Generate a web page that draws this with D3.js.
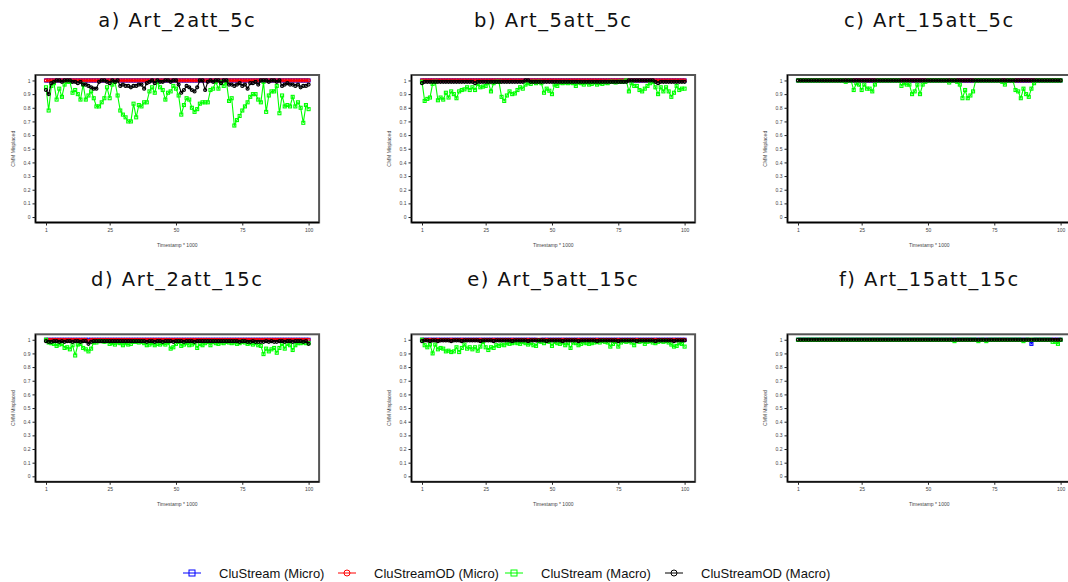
<!DOCTYPE html>
<head>
  <meta charset="utf-8">
  <script src="https://d3js.org/d3.v7.min.js"></script>
  <style>
    body { margin:0; background:#fff; }
    text { font-family: "Liberation Sans", Arial, sans-serif; }
  </style>
</head>
<body>
<script>
var width = 1068, height = 582;

// ---- data ----
var panelTitles = ["a) Art_2att_5c", "b) Art_5att_5c", "c) Art_15att_5c",
                   "d) Art_2att_15c", "e) Art_5att_15c", "f) Art_15att_15c"];
var seriesNames = ["CluStream (Micro)", "CluStreamOD (Micro)", "CluStream (Macro)", "CluStreamOD (Macro)"];
var timestamps = d3.range(1, 101);
var xTicks = [1, 25, 50, 75, 100];
var yTicks = [0, 0.1, 0.2, 0.3, 0.4, 0.5, 0.6, 0.7, 0.8, 0.9, 1];
var xLabel = "Timestamp * 1000";
var yLabel = "CMM Misplaced";

// a) Art_2att_5c
var cluMicroA = [1,1,1,1,1,1,1,1,1,1,1,1,1,1,1,1,1,1,1,1,
  1,1,1,1,1,1,1,1,1,1,1,1,1,1,1,1,1,1,1,1,
  1,1,1,1,1,1,1,1,1,1,1,1,1,1,1,1,1,1,1,1,
  1,1,1,1,1,1,1,1,1,1,1,1,1,1,1,1,1,1,1,1,
  1,1,1,1,1,1,1,1,1,1,1,1,1,1,1,1,1,1,1,1];
var odMicroA = [1,1,1,1,1,1,1,1,1,1,1,1,1,1,1,1,1,1,1,1,
  1,1,1,1,1,1,1,1,1,1,1,1,1,1,1,1,1,1,1,1,
  1,1,1,1,1,1,1,1,1,1,1,1,1,1,1,1,1,1,1,1,
  1,1,1,1,1,1,1,1,1,1,1,1,1,1,1,1,1,1,1,1,
  1,1,1,1,1,1,1,1,1,1,1,1,1,1,1,1,1,1,1,1];
var cluMacroA = [0.95,0.78,0.96,0.98,0.86,0.94,0.88,0.97,0.99,0.99,
  0.91,0.93,0.9,0.86,0.97,0.86,0.89,0.92,0.87,0.81,
  0.81,0.84,0.87,0.95,0.87,0.97,0.99,0.89,0.78,0.75,
  0.73,0.7,0.7,0.83,0.73,0.82,0.81,0.84,0.84,0.92,
  0.95,0.91,0.99,0.95,0.93,0.86,0.91,0.92,0.96,0.94,
  0.89,0.75,0.82,0.87,0.86,0.8,0.77,0.79,0.83,0.84,
  0.84,0.84,0.93,0.94,0.99,0.94,0.99,0.96,0.99,0.85,
  0.87,0.67,0.71,0.74,0.78,0.81,0.84,0.88,0.9,0.9,
  0.86,0.84,0.99,0.77,0.89,0.92,0.92,0.96,0.76,0.89,
  0.81,0.82,0.81,0.88,0.81,0.84,0.8,0.69,0.82,0.79];
var odMacroA = [0.93,0.9,0.98,0.99,1,1,0.99,1,1,1,
  0.99,0.99,0.98,0.99,0.97,0.97,0.96,0.95,0.94,0.94,
  0.99,1,1,0.99,0.98,1,0.99,1,0.96,0.97,
  0.96,0.96,0.95,0.96,0.96,0.97,0.97,0.94,0.98,0.99,
  1,0.98,1,0.99,0.99,1,1,0.99,1,1,
  0.97,0.91,0.93,0.96,0.95,0.93,0.92,0.95,1,1,
  0.93,0.99,1,0.99,1,1,0.98,1,1,0.97,
  0.97,0.96,0.97,0.98,0.96,0.97,0.94,0.98,0.98,0.99,
  0.97,1,1,1,0.99,1,1,0.99,1,0.96,
  0.97,0.98,0.97,0.97,0.96,0.97,0.95,0.96,0.96,0.97];

// b) Art_5att_5c
var cluMicroB = [1,1,1,1,1,1,1,1,1,1,1,1,1,1,1,1,1,1,1,1,
  1,1,1,1,1,1,1,1,1,1,1,1,1,1,1,1,1,1,1,1,
  1,1,1,1,1,1,1,1,1,1,1,1,1,1,1,1,1,1,1,1,
  1,1,1,1,1,1,1,1,1,1,1,1,1,1,1,1,1,1,1,1,
  1,1,1,1,1,1,1,1,1,1,1,1,1,1,1,1,1,1,1,1];
var odMicroB = [1,1,1,1,1,1,1,1,1,1,1,1,1,1,1,1,1,1,1,1,
  1,1,1,1,1,1,1,1,1,1,1,1,1,1,1,1,1,1,1,1,
  1,1,1,1,1,1,1,1,1,1,1,1,1,1,1,1,1,1,1,1,
  1,1,1,1,1,1,1,1,1,1,1,1,1,1,1,1,1,1,1,1,
  1,1,1,1,1,1,1,1,1,1,1,1,1,1,1,1,1,1,1,1];
var cluMacroB = [0.99,0.85,0.865,0.875,0.975,0.99,0.855,0.875,0.86,0.91,
  0.875,0.92,0.9,0.87,0.92,0.93,0.935,0.95,0.93,0.95,
  0.93,0.975,0.95,0.955,0.96,0.985,0.92,0.98,0.99,0.99,
  0.88,0.85,0.89,0.92,0.9,0.905,0.93,0.95,0.94,0.97,
  0.98,0.975,0.99,0.98,0.99,0.98,0.91,0.94,0.925,0.9,
  0.97,0.96,0.985,0.98,0.985,0.98,0.985,0.98,0.96,0.985,
  0.98,0.97,0.985,0.97,0.975,0.985,0.97,0.98,0.975,0.985,
  0.98,0.99,0.99,0.985,0.99,0.99,0.99,1,0.92,0.98,
  0.96,0.96,0.93,0.92,0.94,0.96,0.98,0.99,0.95,0.9,
  0.95,0.92,0.95,0.92,0.88,0.91,0.96,0.93,0.94,0.94];
var odMacroB = [0.98,0.99,0.99,0.99,0.99,0.99,0.99,0.99,0.99,0.99,
  0.99,0.99,0.99,0.99,0.99,0.99,0.99,0.99,0.99,0.99,
  0.98,0.99,0.99,0.99,0.99,0.99,0.99,0.99,0.99,0.99,
  0.99,0.99,0.99,0.99,0.99,0.99,0.99,0.99,0.99,1,
  1,0.99,0.99,0.99,0.99,0.99,0.99,0.99,0.99,0.99,
  0.99,0.99,0.99,0.99,0.99,0.99,0.99,0.99,0.99,0.99,
  0.99,0.99,0.99,0.99,0.99,0.99,0.99,0.99,0.99,0.99,
  0.99,0.99,0.99,0.99,0.99,0.99,0.99,0.99,1,1,
  1,1,1,1,1,1,1,1,0.99,0.98,
  0.99,0.99,0.99,0.99,0.99,0.99,0.99,0.99,0.99,0.99];

// c) Art_15att_5c
var cluMicroC = [1,1,1,1,1,1,1,1,1,1,1,1,1,1,1,1,1,1,1,1,
  1,1,1,1,1,1,1,1,1,1,1,1,1,1,1,1,1,1,1,1,
  1,1,1,1,1,1,1,1,1,1,1,1,1,1,1,1,1,1,1,1,
  1,1,1,1,1,1,1,1,1,1,1,1,1,1,1,1,1,1,1,1,
  1,1,1,1,1,1,1,1,1,1,1,1,1,1,1,1,1,1,1,1];
var odMicroC = [1,1,1,1,1,1,1,1,1,1,1,1,1,1,1,1,1,1,1,1,
  1,1,1,1,1,1,1,1,1,1,1,1,1,1,1,1,1,1,1,1,
  1,1,1,1,1,1,1,1,1,1,1,1,1,1,1,1,1,1,1,1,
  1,1,1,1,1,1,1,1,1,1,1,1,1,1,1,1,1,1,1,1,
  1,1,1,1,1,1,1,1,1,1,1,1,1,1,1,1,1,1,1,1];
var cluMacroC = [1,1,1,1,1,1,1,1,1,1,
  1,1,1,1,1,1,1,1,0.99,1,
  1,0.93,0.98,0.97,0.93,0.97,0.94,0.94,0.92,0.97,
  1,1,1,1,1,1,1,1,1,0.96,
  0.98,0.97,0.97,0.9,0.92,0.97,0.9,0.97,0.99,1,
  1,1,1,1,1,1,1,0.985,1,1,
  0.99,0.97,0.87,0.93,0.87,0.89,0.92,1,1,1,
  1,1,1,1,1,1,1,0.99,0.97,1,
  1,1,0.93,0.92,0.87,0.94,0.9,0.88,0.94,0.98,
  1,1,1,1,1,1,1,1,1,1];
var odMacroC = [1,1,1,1,1,1,1,1,1,1,1,1,1,1,1,1,1,1,1,1,
  1,1,1,1,1,1,1,1,1,1,1,1,1,1,1,1,1,1,1,1,
  1,1,1,1,1,1,1,1,1,1,1,1,1,1,1,1,1,1,1,1,
  1,1,1,1,1,1,1,1,1,1,1,1,1,1,1,1,1,1,1,1,
  1,1,1,1,1,1,1,1,1,1,1,1,1,1,1,1,1,1,1,1];

// d) Art_2att_15c
var cluMicroD = [1,1,1,1,1,1,1,1,1,1,1,1,1,1,1,1,1,1,1,1,
  1,1,1,1,1,1,1,1,1,1,1,1,1,1,1,1,1,1,1,1,
  1,1,1,1,1,1,1,1,1,1,1,1,1,1,1,1,1,1,1,1,
  1,1,1,1,1,1,1,1,1,1,1,1,1,1,1,1,1,1,1,1,
  1,1,1,1,1,1,1,1,1,1,1,1,1,1,1,1,1,1,1,1];
var odMicroD = [1,1,1,1,1,1,1,1,1,1,1,1,1,1,1,1,0.99,1,1,1,
  1,1,1,1,1,1,1,1,1,1,1,1,1,1,1,1,1,1,1,1,
  1,1,1,1,1,1,1,1,1,1,1,1,1,1,1,1,1,1,1,1,
  1,1,1,1,1,1,1,1,1,1,1,1,1,1,1,1,1,1,1,1,
  1,1,1,1,1,1,1,1,1,1,1,1,1,1,1,1,1,1,1,1];
var cluMacroD = [1,0.98,0.975,0.97,0.955,0.965,0.97,0.94,0.945,0.93,
  0.96,0.885,0.965,0.97,0.94,0.93,0.915,0.935,0.98,0.98,
  0.99,0.99,0.985,0.99,0.97,0.975,0.965,0.98,0.975,0.96,
  0.975,0.965,0.97,0.985,0.985,0.98,0.985,0.975,0.96,0.965,
  0.975,0.96,0.97,0.965,0.975,0.965,0.98,0.935,0.945,0.97,
  0.985,0.955,0.965,0.975,0.96,0.965,0.975,0.94,0.97,0.96,
  0.975,0.985,0.96,0.985,0.975,0.97,0.98,0.975,0.985,0.98,
  0.975,0.98,0.97,0.975,0.985,0.98,0.97,0.975,0.965,0.975,
  0.96,0.955,0.895,0.935,0.915,0.93,0.94,0.905,0.94,0.97,
  0.935,0.97,0.96,0.925,0.96,0.975,0.975,0.98,0.975,0.975];
var odMacroD = [0.99,0.985,0.985,0.99,0.99,0.985,0.99,0.985,0.99,0.99,
  0.985,0.99,0.99,0.985,0.99,0.99,0.97,0.985,0.99,0.99,
  0.99,0.99,0.99,0.99,0.99,0.99,0.99,0.99,0.99,0.99,
  0.99,0.99,0.99,0.99,0.99,0.99,0.99,0.99,0.985,0.99,
  0.99,0.985,0.99,0.99,0.985,0.99,0.99,0.99,0.985,0.99,
  0.99,0.99,0.985,0.99,0.99,0.99,0.985,0.99,0.99,0.99,
  0.99,0.99,0.99,0.99,0.99,0.99,0.99,0.99,0.99,0.99,
  0.99,0.99,0.99,0.985,0.99,0.99,0.985,0.985,0.99,0.985,
  0.985,0.985,0.985,0.99,0.985,0.99,0.985,0.985,0.99,0.99,
  0.985,0.99,0.99,0.985,0.99,0.99,0.99,0.985,0.99,0.97];

// e) Art_5att_15c
var cluMicroE = [1,1,1,1,1,1,1,1,1,1,1,1,1,1,1,1,1,1,1,1,
  1,1,1,1,1,1,1,1,1,1,1,1,1,1,1,1,1,1,1,1,
  1,1,1,1,0.99,1,1,1,1,1,1,1,1,1,1,1,1,1,1,1,
  1,1,1,1,1,1,1,1,1,1,1,1,1,1,1,1,1,1,1,1,
  1,1,1,1,1,1,1,1,1,1,1,1,1,1,1,1,1,1,1,1];
var odMicroE = [1,1,1,1,1,1,1,1,1,1,1,1,1,1,1,1,1,1,1,1,
  1,1,1,1,1,1,1,1,1,1,1,1,1,1,1,1,1,1,1,1,
  1,1,1,1,1,1,1,1,1,1,1,1,1,1,1,1,1,1,1,1,
  1,1,1,1,1,1,1,1,1,1,1,1,1,1,1,1,1,1,1,1,
  1,1,1,1,1,1,1,1,1,1,1,1,1,1,1,1,1,1,1,1];
var cluMacroE = [1,0.96,0.945,0.965,0.9,0.965,0.93,0.94,0.935,0.915,
  0.92,0.91,0.915,0.945,0.91,0.94,0.965,0.935,0.945,0.93,
  0.945,0.92,0.95,0.985,0.945,0.925,0.945,0.94,0.96,0.955,
  0.965,0.96,0.975,0.97,0.975,0.98,0.975,0.97,0.985,0.975,
  0.965,0.975,0.96,0.955,0.99,0.985,0.975,0.99,0.985,0.955,
  0.985,0.975,0.97,0.98,0.96,0.975,0.94,0.98,0.975,0.96,
  0.97,0.98,0.975,0.97,0.975,0.98,0.985,0.98,0.99,0.985,
  0.98,0.95,0.97,0.985,0.95,0.98,0.99,0.985,0.99,0.98,
  0.96,0.99,0.985,0.99,0.97,0.985,0.99,0.98,0.975,0.985,
  0.99,0.985,0.99,0.98,0.965,0.95,0.955,0.975,0.97,0.95];
var odMacroE = [0.99,0.995,0.995,0.99,0.995,0.995,0.99,0.995,0.995,0.995,
  0.995,0.99,0.995,0.995,0.995,0.99,0.995,0.995,0.995,0.995,
  0.995,0.995,0.99,0.995,0.995,0.995,0.995,0.99,0.995,0.995,
  0.995,0.995,0.995,0.995,0.99,0.995,0.995,0.995,0.995,0.995,
  0.99,0.995,0.995,0.995,0.995,0.995,0.995,0.99,0.995,0.995,
  0.995,0.995,0.995,0.99,0.995,0.995,0.995,0.995,0.995,0.99,
  0.995,0.995,0.995,0.995,0.995,0.995,0.99,0.995,0.995,0.995,
  0.995,0.995,0.995,0.995,0.99,0.995,0.995,0.995,0.995,0.995,
  0.995,0.99,0.995,0.995,0.995,0.995,0.995,0.995,0.99,0.995,
  0.995,0.995,0.995,0.995,0.995,0.99,0.995,0.995,0.995,0.995];

// f) Art_15att_15c
var cluMicroF = [1,1,1,1,1,1,1,1,1,1,1,1,1,1,1,1,1,1,1,1,
  1,1,1,1,1,1,1,1,1,1,1,1,1,1,1,1,1,1,1,1,
  1,1,1,1,1,1,1,1,1,1,1,1,1,1,1,1,1,1,1,1,
  1,1,1,1,1,1,1,1,1,1,1,1,1,1,1,1,1,1,1,1,
  1,1,1,1,1,1,1,1,0.97,1,1,1,1,1,1,1,1,1,1,1];
var odMicroF = [1,1,1,1,1,1,1,1,1,1,1,1,1,1,1,1,1,1,1,1,
  1,1,1,1,1,1,1,1,1,1,1,1,1,1,1,1,1,1,1,1,
  1,1,1,1,1,1,1,1,1,1,1,1,1,1,1,1,1,1,1,1,
  1,1,1,1,1,1,1,1,1,1,1,1,1,1,1,1,1,1,1,1,
  1,1,1,1,1,1,1,1,1,1,1,1,1,1,1,1,1,1,1,1];
var cluMacroF = [1,1,1,1,1,1,1,1,1,1,1,1,1,1,1,1,1,1,1,1,
  1,1,1,1,1,1,1,1,1,1,1,1,1,1,1,1,1,1,1,1,
  1,1,1,1,1,1,1,1,1,1,1,1,1,1,1,1,1,1,1,0.99,
  1,1,1,1,1,1,1,1,0.99,1,1,0.99,1,1,1,1,1,1,1,1,
  1,1,1,1,1,0.99,1,1,1,1,1,1,1,1,1,1,0.985,0.985,0.97,1];
var odMacroF = [1,1,1,1,1,1,1,1,1,1,1,1,1,1,1,1,1,1,1,1,
  1,1,1,1,1,1,1,1,1,1,1,1,1,1,1,1,1,1,1,1,
  1,1,1,1,1,1,1,1,1,1,1,1,1,1,1,1,1,1,1,1,
  1,1,1,1,1,1,1,1,1,1,1,1,1,1,1,1,1,1,1,1,
  1,1,1,1,1,1,1,1,1,1,1,1,1,1,1,1,1,1,1,1];

var panelSeries = [
  [cluMicroA, odMicroA, cluMacroA, odMacroA],
  [cluMicroB, odMicroB, cluMacroB, odMacroB],
  [cluMicroC, odMicroC, cluMacroC, odMacroC],
  [cluMicroD, odMicroD, cluMacroD, odMacroD],
  [cluMicroE, odMicroE, cluMacroE, odMacroE],
  [cluMicroF, odMicroF, cluMacroF, odMacroF]
];

// ---- styles / layout ----
var colors = ["#0000ff", "#ff0000", "#00ff00", "#000000"];
var shapes = ["square", "circle", "square", "circle"];
var colX = [35.5, 411.5, 787.5], rowY = [75, 334.3];
var boxW = 283.6, boxH = 147.5;

var svg = d3.select("body").append("svg")
  .attr("width", width)
  .attr("height", height);

var x = d3.scaleLinear().domain([-2.96, 103.96]).range([0, boxW]);
var y = d3.scaleLinear().domain([-0.04, 1.04]).range([boxH, 0]);

var line = d3.line()
  .x(function(d, i) { return x(timestamps[i]); })
  .y(function(d) { return y(d); });

// small open markers, drawn thick so they read like the downscaled R symbols
function drawMarker(sel, shape, color, cx, cy) {
  if (shape == "square") {
    sel.append("rect")
      .attr("x", cx - 1.5).attr("y", cy - 1.5)
      .attr("width", 3).attr("height", 3)
      .attr("fill", "none").attr("stroke", color).attr("stroke-width", 1.1);
  } else {
    sel.append("circle")
      .attr("cx", cx).attr("cy", cy).attr("r", 1.5)
      .attr("fill", "none").attr("stroke", color).attr("stroke-width", 1.2);
  }
}

panelTitles.forEach(function(title, p) {
  var col = p % 3, row = Math.floor(p / 3);
  var g = svg.append("g")
    .attr("transform", "translate(" + colX[col] + "," + rowY[row] + ")");

  // title
  g.append("text")
    .attr("x", boxW / 2).attr("y", -48)
    .attr("text-anchor", "middle")
    .style("font-family", "'DejaVu Sans', sans-serif")
    .style("font-size", "19.5px")
    .style("letter-spacing", "1.5px")
    .attr("fill", "#111")
    .text(title);

  // series
  panelSeries[p].forEach(function(vals, s) {
    g.append("path")
      .attr("d", line(vals))
      .attr("fill", "none")
      .attr("stroke", colors[s])
      .attr("stroke-width", 1.1);
    var mg = g.append("g");
    vals.forEach(function(v, i) {
      drawMarker(mg, shapes[s], colors[s], x(timestamps[i]), y(v));
    });
  });

  // box
  g.append("rect")
    .attr("width", boxW).attr("height", boxH)
    .attr("fill", "none").attr("stroke", "#555").attr("stroke-width", 2);
  g.append("line").attr("x1", 0).attr("x2", 0).attr("y1", 0).attr("y2", boxH)
    .attr("stroke", "#000").attr("stroke-width", 1.3);
  g.append("line").attr("x1", 0).attr("x2", boxW).attr("y1", boxH).attr("y2", boxH)
    .attr("stroke", "#000").attr("stroke-width", 1.3);

  // axes
  var ya = g.append("g")
    .call(d3.axisLeft(y).tickValues(yTicks).tickSize(3).tickPadding(2)
      .tickFormat(function(d) { return String(+d.toFixed(1)); }));
  var xa = g.append("g")
    .attr("transform", "translate(0," + boxH + ")")
    .call(d3.axisBottom(x).tickValues(xTicks).tickSize(3).tickPadding(3));
  [ya, xa].forEach(function(a) {
    a.select(".domain").remove();
    a.selectAll("line").attr("stroke", "#222");
    a.selectAll("text").attr("fill", "#444")
      .style("font-size", "5px").style("font-family", "'Liberation Sans', Arial, sans-serif");
  });

  g.append("text")
    .attr("x", boxW / 2).attr("y", boxH + 24)
    .attr("text-anchor", "middle")
    .attr("fill", "#444")
    .style("font-size", "5px")
    .text(xLabel);

  g.append("text")
    .attr("transform", "translate(-21," + (boxH / 2) + ") rotate(-90)")
    .attr("text-anchor", "middle")
    .attr("fill", "#444")
    .style("font-size", "5px")
    .text(yLabel);
});

// legend
var legendX = [183, 338, 505, 665];
var legend = svg.append("g").attr("transform", "translate(0,573)");
seriesNames.forEach(function(name, s) {
  var lg = legend.append("g").attr("transform", "translate(" + legendX[s] + ",0)");
  lg.append("line").attr("x1", 0).attr("x2", 18).attr("y1", 0).attr("y2", 0)
    .attr("stroke", colors[s]).attr("stroke-width", 1);
  if (shapes[s] == "square") {
    lg.append("rect").attr("x", 6).attr("y", -3).attr("width", 6).attr("height", 6)
      .attr("fill", "none").attr("stroke", colors[s]).attr("stroke-width", 1);
  } else {
    lg.append("circle").attr("cx", 9).attr("cy", 0).attr("r", 3)
      .attr("fill", "none").attr("stroke", colors[s]).attr("stroke-width", 1);
  }
  lg.append("text")
    .attr("x", 36).attr("y", 0).attr("dy", "0.35em")
    .attr("fill", "#111")
    .style("font-size", "13px")
    .text(name);
});
</script>
</body>
